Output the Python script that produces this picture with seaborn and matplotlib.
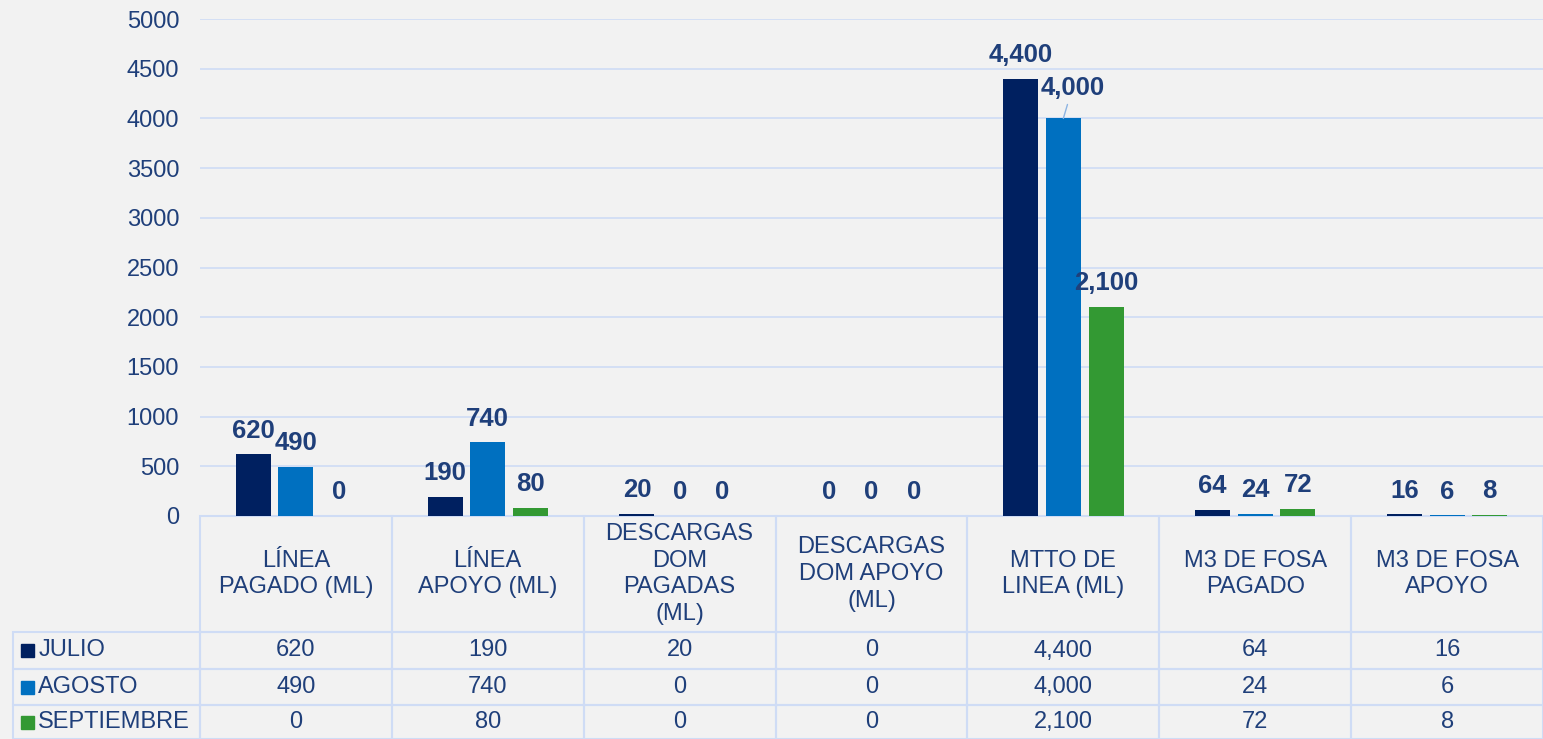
import matplotlib.pyplot as plt
import matplotlib.patches as mpatches
import pandas as pd
import seaborn as sns

# values
categories = [
    "LÍNEA\nPAGADO (ML)",
    "LÍNEA\nAPOYO (ML)",
    "DESCARGAS\nDOM\nPAGADAS\n(ML)",
    "DESCARGAS\nDOM APOYO\n(ML)",
    "MTTO DE\nLINEA (ML)",
    "M3 DE FOSA\nPAGADO",
    "M3 DE FOSA\nAPOYO",
]
months = ["JULIO", "AGOSTO", "SEPTIEMBRE"]
julio = [620, 190, 20, 0, 4400, 64, 16]
agosto = [490, 740, 0, 0, 4000, 24, 6]
septiembre = [0, 80, 0, 0, 2100, 72, 8]
y_ticks = list(range(0, 5001, 500))

colors = ["#002060", "#0070c0", "#339933"]
TEXT = "#1f3f7a"
GRID = "#cfdcf5"
BG = "#f2f2f2"

sns.set_style("white")
plt.rcParams["font.family"] = ["Liberation Sans", "DejaVu Sans"]

series = [julio, agosto, septiembre]
df = pd.DataFrame({
    "categoria": categories * len(months),
    "mes": [m for m in months for _ in categories],
    "valor": [v for s in series for v in s],
})

fig = plt.figure(figsize=(15.43, 7.39), dpi=100, facecolor=BG)
ax = fig.add_axes([200 / 1543, 223 / 739, 1343 / 1543, 497 / 739])
ax.set_facecolor(BG)

sns.barplot(data=df, x="categoria", y="valor", hue="mes", order=categories,
            hue_order=months, palette=colors, saturation=1, width=0.668, gap=0.18,
            errorbar=None, linewidth=0, legend=False, ax=ax)

ax.set_ylim(0, 5000)
ax.set_xlim(-0.5, len(categories) - 0.5)
ax.set_yticks(y_ticks)
ax.set_xticks([])
ax.set_xlabel("")
ax.set_ylabel("")
ax.tick_params(axis="y", length=0, pad=15, labelsize=17, labelcolor=TEXT)
ax.grid(axis="y", color=GRID, linewidth=1.2)
ax.set_axisbelow(True)
sns.despine(ax=ax, left=True, bottom=True)

# data labels
label_kw = dict(fontsize=18.5, fontweight="bold", color=TEXT)
for i, cont in enumerate(ax.containers):
    labels = [f"{v:,.0f}" for v in series[i]]
    if i == 1:
        labels[4] = ""
    ax.bar_label(cont, labels=labels, padding=8.5, **label_kw)

# the 4,000 label sits a bit off, with a leader line
bar = ax.containers[1][4]
ax.annotate(f"{agosto[4]:,.0f}", xy=(bar.get_x() + bar.get_width() / 2, bar.get_height()),
            xytext=(6.5, 22), textcoords="offset points", ha="center", va="center",
            arrowprops=dict(arrowstyle="-", color="#8db4e2", lw=1, shrinkA=1, shrinkB=0),
            **label_kw)

# data table under the chart; first column holds the month names
cell_text = [[m] + [f"{v:,.0f}" for v in s] for m, s in zip(months, series)]
tab = ax.table(cellText=cell_text, colLabels=[""] + categories,
               cellLoc="center", colLoc="center",
               bbox=[-187 / 1343, -223 / 497, 1530 / 1343, 223 / 497])
tab.auto_set_font_size(False)
tab.set_fontsize(17)
row_h = [116, 37, 36, 34]
for (r, c), cell in tab.get_celld().items():
    cell.set_edgecolor(GRID)
    cell.set_linewidth(1.5)
    cell.set_facecolor("none")
    cell.get_text().set_color(TEXT)
    cell.get_text().set_linespacing(1.28)
    cell.set_height(row_h[r])
    cell.set_width(187 if c == 0 else 192)
    if c == 0:
        cell.PAD = 0.135
        cell.get_text().set_horizontalalignment("left")
        cell._loc = "left"
tab[0, 0].set_visible(False)

# legend keys in the month cells
fig.canvas.draw()
renderer = fig.canvas.get_renderer()
inv = fig.transFigure.inverted()
for i, col in enumerate(colors):
    bb = tab[i + 1, 0].get_window_extent(renderer)
    yc = (bb.y0 + bb.y1) / 2
    (x0, y0), (x1, y1) = inv.transform([(bb.x0 + 7.5, yc - 6.5), (bb.x0 + 20.5, yc + 6.5)])
    fig.add_artist(mpatches.Rectangle((x0, y0), x1 - x0, y1 - y0, color=col,
                                      transform=fig.transFigure))

fig.savefig("out.png", dpi=100, facecolor=BG)
